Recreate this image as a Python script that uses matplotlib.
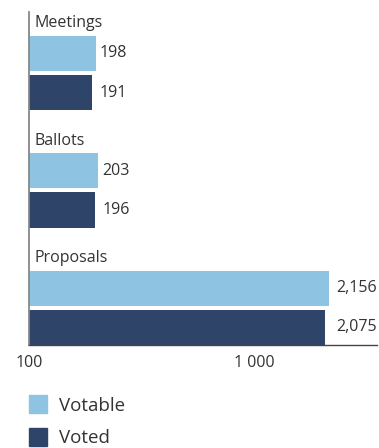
import matplotlib
matplotlib.use("Agg")
import matplotlib.pyplot as plt
from matplotlib.lines import Line2D

plt.rcParams['font.family'] = ['Open Sans', 'DejaVu Sans']

categories = ["Meetings", "Ballots", "Proposals"]
votable = [198, 203, 2156]
voted = [191, 196, 2075]
value_labels_votable = ["198", "203", "2,156"]
value_labels_voted = ["191", "196", "2,075"]
series_names = ["Votable", "Voted"]
tick_values = [100, 1000]
tick_labels = ["100", "1 000"]

c_light = "#8FC3E2"
c_dark = "#2E4469"
txt = "#333333"
fs = 11.5

fig = plt.figure(figsize=(3.79, 4.48), dpi=100)
ax = fig.add_axes([29/379, 1-345/448, (377-29)/379, (345-12)/448])

bh = 0.9
for g, cat in enumerate(categories):
    y1 = 3*g + 1
    y2 = 3*g + 2
    ax.barh(y1, votable[g], height=bh, left=0.0001, color=c_light)
    ax.barh(y2, voted[g], height=bh, left=0.0001, color=c_dark)
    xl = max(votable[g], voted[g])
    off = 3 if g < 2 else 5.5
    ax.annotate(value_labels_votable[g], (xl, y1), xytext=(off, 0),
                textcoords="offset points", va="center", ha="left", fontsize=fs, color=txt)
    ax.annotate(value_labels_voted[g], (xl, y2), xytext=(off, 0),
                textcoords="offset points", va="center", ha="left", fontsize=fs, color=txt)
    ax.annotate(cat, (100, 3*g + 0.33), xytext=(4, 0), textcoords="offset points",
                va="baseline", ha="left", fontsize=fs, color=txt)

ax.set_xscale("log")
ax.set_xlim(100, 3520)
ax.set_ylim(8.45, -0.06)
ax.set_xticks(tick_values)
ax.set_xticklabels(tick_labels)
ax.xaxis.set_minor_locator(matplotlib.ticker.NullLocator())
ax.set_yticks([])
ax.tick_params(axis="x", length=0, pad=7, labelsize=fs, labelcolor=txt)
for s in ["top", "right"]:
    ax.spines[s].set_visible(False)
ax.spines["left"].set_color("#888888")
ax.spines["left"].set_linewidth(1.3)
ax.spines["bottom"].set_color("#444444")
ax.spines["bottom"].set_linewidth(1.0)

handles = [Line2D([], [], marker="s", linestyle="none", markersize=12.5, color=c_light),
           Line2D([], [], marker="s", linestyle="none", markersize=12.5, color=c_dark)]
leg = fig.legend(handles, series_names, loc="upper left", bbox_to_anchor=(29/379, 1-397/448),
                 frameon=False, fontsize=13.5, labelspacing=0.75, handlelength=1.0,
                 handletextpad=0.6, borderaxespad=0, borderpad=0)
for t in leg.get_texts():
    t.set_color(txt)

fig.savefig("out.png", dpi=100)
